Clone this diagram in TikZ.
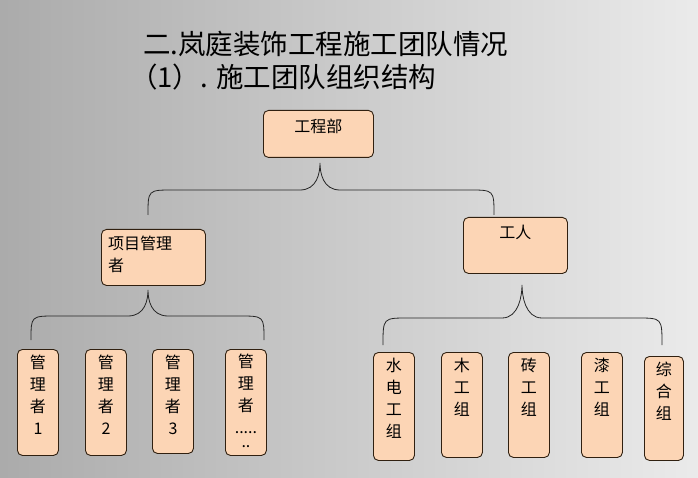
\documentclass[tikz,border=0pt]{standalone}
\usepackage{fontspec}
\newfontfamily\cjk{Noto Sans CJK SC}
\begin{document}
\begin{tikzpicture}[x=1pt,y=-1pt,
  box/.style={draw=black!75!brown,line width=0.9pt,rounded corners=5pt,fill=peach,anchor=north west,inner sep=0pt},
  lbl/.style={font=\cjk\fontsize{16}{22}\selectfont,inner sep=0pt},
  brace/.style={draw=black!85,line width=0.8pt}]
\definecolor{peach}{HTML}{FCD5B5}
\shade[left color=black!33,right color=black!8] (0,0) rectangle (698,478);
\useasboundingbox (0,0) rectangle (698,478);
\node[anchor=west,font=\cjk\fontsize{27.5}{30}\selectfont,inner sep=0pt] (t1) at (143,44) {二.岚庭装饰工程施工团队情况};
\node[anchor=west,font=\cjk\fontsize{27.5}{30}\selectfont,inner sep=0pt] (t2) at (130,77) {（1）. 施工团队组织结构};
\newcommand\bx[6]{\node[box,minimum width=#3pt,minimum height=#4pt] (#1) at (#2) {};
  \node[lbl,align=center,anchor=north] (#1t) at ([yshift=-#5pt]#1.north) {#6};}
\bx{gc}{263,110}{110}{47}{9}{工程部}
\node[box,minimum width=104pt,minimum height=56pt] (xm) at (101,229) {};
\node[lbl,align=left,anchor=north west] (xmt) at ([xshift=7pt,yshift=-7pt]xm.north west) {项目管理\\者};
\bx{gr}{463,217}{104}{56}{8}{工人}
\bx{m1}{17,349}{41}{106}{6}{管\\理\\者\\1}
\bx{m2}{85,349}{41}{106}{6}{管\\理\\者\\2}
\bx{m3}{152,349}{41}{104}{6}{管\\理\\者\\3}
\bx{m4}{225,349}{41}{106}{5}{管\\理\\者\\.....\\[-8pt]..}
\bx{w1}{373,352}{41}{108}{6}{水\\电\\工\\组}
\bx{w2}{441,352}{41}{105}{6}{木\\工\\组}
\bx{w3}{508,352}{41}{105}{6}{砖\\工\\组}
\bx{w4}{581,352}{41}{105}{6}{漆\\工\\组}
\bx{w5}{644,356}{39}{104}{6}{综\\合\\组}
\newcommand\brc[6]{% apex x, apex y, mid y, left x, right x, end y
 \draw[brace] (#4,#6) .. controls (#4,#3) .. (#4+25,#3) -- (#1-20,#3) .. controls (#1-3,#3) and (#1,#2+10) .. (#1,#2)
   .. controls (#1,#2+10) and (#1+3,#3) .. (#1+20,#3) -- (#5-25,#3) .. controls (#5,#3) .. (#5,#6);}
\brc{320}{163}{190}{148}{494}{215}
\brc{148}{290}{316}{31}{264}{340}
\brc{522}{285}{318}{383}{662}{345}
\end{tikzpicture}
\end{document}
